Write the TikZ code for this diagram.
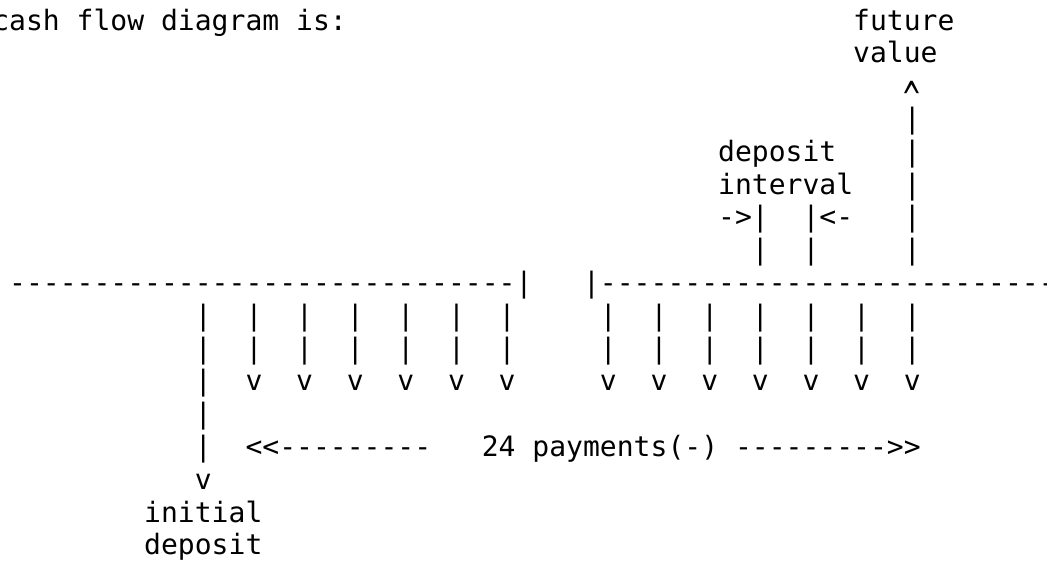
\documentclass[tikz,border=0pt]{standalone}
\usepackage{fontspec}
\newfontfamily\asciimono{DejaVu Sans Mono}
\begin{document}
\begin{tikzpicture}[x=1pt,y=1pt]
\fill[white] (0,0) rectangle (1047,-562);
\useasboundingbox (0,0) rectangle (1047,-562);
\clip (0,0) rectangle (1047,-562);
\begin{scope}[x=16.88pt,y=-32.8pt,shift={(-7.7pt,-30pt)},
  cell/.style={anchor=base west,inner sep=0pt,outer sep=0pt,
    font=\asciimono\fontsize{28.04pt}{32.8pt}\selectfont}]
% header and future value
\node[cell] (title) at (0,0) {cash flow diagram is:};
\node[cell] (fv1) at (51,0) {future};
\node[cell] (fv2) at (51,1) {value};
\node[cell] (caret) at (54,2) {\raisebox{-18.5pt}[15pt][0pt]{\scalebox{1}[1.625]{\textasciicircum}}};
\foreach \r in {3,...,7} \node[cell] (fvbar\r) at (54,\r) {|};
% deposit interval
\node[cell] (di1) at (43,4) {deposit};
\node[cell] (di2) at (43,5) {interval};
\node[cell] (dil) at (43,6) {->|};
\node[cell] (dir) at (48,6) {|<-};
\node[cell] (dibl) at (45,7) {|};
\node[cell] (dibr) at (48,7) {|};
% time line
\node[cell] (lineL) at (1,8) {------------------------------|};
\node[cell] (lineR) at (35,8) {|---------------------------};
% payment bars
\foreach \c in {12,15,18,21,24,27,30,36,39,42,45,48,51,54}{
  \node[cell] (pa\c) at (\c,9) {|};
  \node[cell] (pb\c) at (\c,10) {|};
}
\node[cell] (init11) at (12,11) {|};
\foreach \c in {15,18,21,24,27,30,36,39,42,45,48,51,54}
  \node[cell] (pv\c) at (\c,11) {v};
% initial deposit
\node[cell] (init12) at (12,12) {|};
\node[cell] (init13) at (12,13) {|};
\node[cell] (arrL) at (15,13) {<<---------};
\node[cell] (pay) at (29,13) {24 payments(-)};
\node[cell] (arrR) at (44,13) {--------->>};
\node[cell] (initv) at (12,14) {v};
\node[cell] (id1) at (9,15) {initial};
\node[cell] (id2) at (9,16) {deposit};
\end{scope}
\end{tikzpicture}
\end{document}
